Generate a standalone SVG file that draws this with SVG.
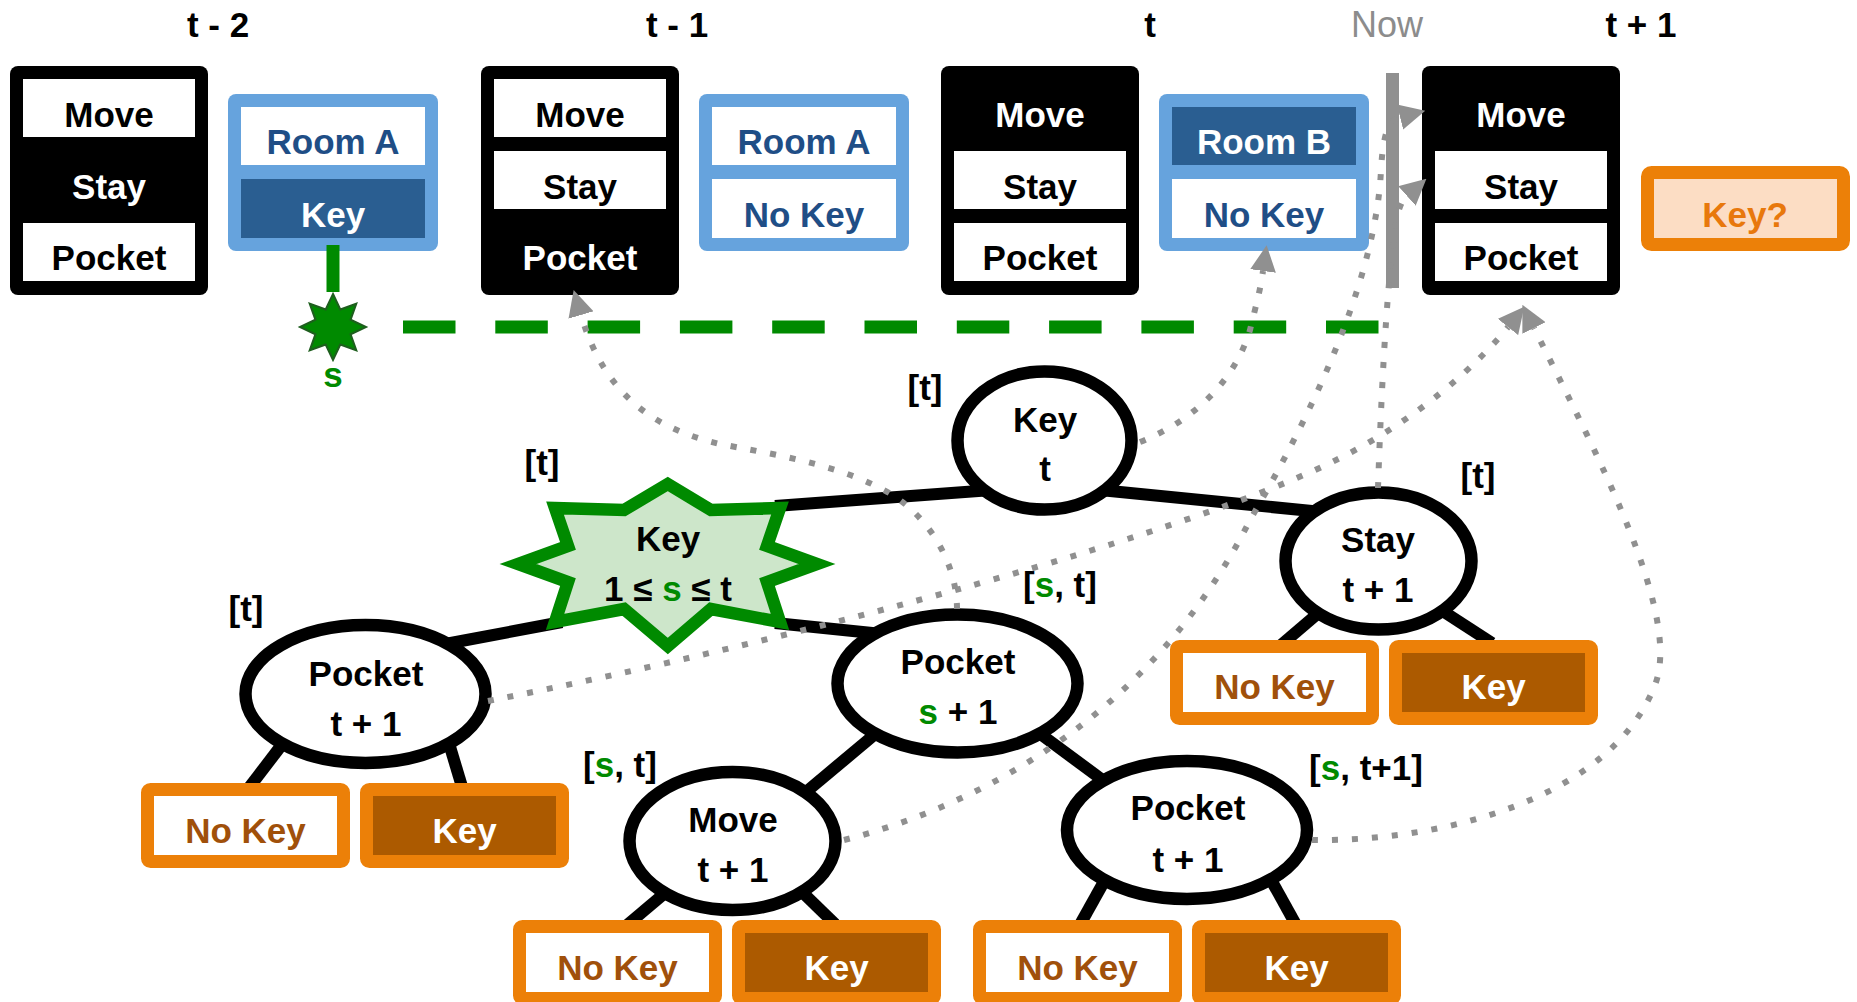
<svg xmlns="http://www.w3.org/2000/svg" width="1857" height="1002" viewBox="0 0 1857 1002">
  <defs>
    <style>
      text { font-family: "Liberation Sans", Arial, sans-serif; font-weight: bold; font-size: 35px; text-anchor: middle; }
      .hdr { fill: #000; }
      .now { fill: #8c8c8c; font-weight: normal; font-size: 36px; }
      .blk { fill: #000; }
      .row { fill: #fff; }
      .wt { fill: #fff; }
      .bk { fill: #000; }
      .room { fill: #66a3dd; }
      .rowsel { fill: #2a5e91; }
      .rt { fill: #1f4e86; }
      .leaf { fill: #fff; stroke: #ec8008; stroke-width: 13; }
      .leafk { fill: #ac5a00; stroke: #ec8008; stroke-width: 13; }
      .lt { fill: #a0500a; }
      .node { fill: #fff; stroke: #000; stroke-width: 12.5; }
      .edge { stroke: #000; stroke-width: 12; fill: none; }
      .g { fill: #008a00; }
      .dot { fill: none; stroke: #909090; stroke-width: 6; stroke-dasharray: 6 14; marker-end: url(#arr); }
    </style>
    <marker id="arr" markerUnits="userSpaceOnUse" markerWidth="26" markerHeight="26" viewBox="0 0 26 26" refX="0" refY="13" orient="auto">
      <path d="M0,0 L26,13 L0,26 z" fill="#909090"/>
    </marker>
  </defs>

  <rect width="1857" height="1002" fill="#fff"/>

  <!-- time step headings -->
  <g id="headings">
    <text class="hdr" x="218" y="37">t - 2</text>
    <text class="hdr" x="677" y="37">t - 1</text>
    <text class="hdr" x="1150" y="37">t</text>
    <text class="now" x="1387" y="37">Now</text>
    <text class="hdr" x="1641" y="37">t + 1</text>
  </g>

  <!-- action blocks -->
  <g id="action-t-2">
    <rect class="blk" x="10" y="66" width="198" height="229" rx="8"/>
    <rect class="row" x="23" y="79" width="172" height="58"/>
    <rect class="row" x="23" y="223" width="172" height="58"/>
    <text class="bk" x="109" y="127">Move</text>
    <text class="wt" x="109" y="199">Stay</text>
    <text class="bk" x="109" y="270">Pocket</text>
  </g>
  <g id="action-t-1">
    <rect class="blk" x="481" y="66" width="198" height="229" rx="8"/>
    <rect class="row" x="494" y="79" width="172" height="58"/>
    <rect class="row" x="494" y="151" width="172" height="58"/>
    <text class="bk" x="580" y="127">Move</text>
    <text class="bk" x="580" y="199">Stay</text>
    <text class="wt" x="580" y="270">Pocket</text>
  </g>
  <g id="action-t">
    <rect class="blk" x="941" y="66" width="198" height="229" rx="8"/>
    <rect class="row" x="954" y="151" width="172" height="58"/>
    <rect class="row" x="954" y="223" width="172" height="58"/>
    <text class="wt" x="1040" y="127">Move</text>
    <text class="bk" x="1040" y="199">Stay</text>
    <text class="bk" x="1040" y="270">Pocket</text>
  </g>
  <g id="action-t1">
    <rect class="blk" x="1422" y="66" width="198" height="229" rx="8"/>
    <rect class="row" x="1435" y="151" width="172" height="58"/>
    <rect class="row" x="1435" y="223" width="172" height="58"/>
    <text class="wt" x="1521" y="127">Move</text>
    <text class="bk" x="1521" y="199">Stay</text>
    <text class="bk" x="1521" y="270">Pocket</text>
  </g>

  <!-- observation blocks -->
  <g id="obs-t-2">
    <rect class="room" x="228" y="94" width="210" height="157" rx="8"/>
    <rect class="row" x="241" y="107" width="184" height="58"/>
    <rect class="rowsel" x="241" y="179" width="184" height="59"/>
    <text class="rt" x="333" y="154">Room A</text>
    <text class="wt" x="333" y="227">Key</text>
  </g>
  <g id="obs-t-1">
    <rect class="room" x="699" y="94" width="210" height="157" rx="8"/>
    <rect class="row" x="712" y="107" width="184" height="58"/>
    <rect class="row" x="712" y="179" width="184" height="59"/>
    <text class="rt" x="804" y="154">Room A</text>
    <text class="rt" x="804" y="227">No Key</text>
  </g>
  <g id="obs-t">
    <rect class="room" x="1159" y="94" width="210" height="157" rx="8"/>
    <rect class="rowsel" x="1172" y="107" width="184" height="58"/>
    <rect class="row" x="1172" y="179" width="184" height="59"/>
    <text class="wt" x="1264" y="154">Room B</text>
    <text class="rt" x="1264" y="227">No Key</text>
  </g>
  <g id="query">
    <rect x="1647.5" y="172.5" width="196" height="72" rx="4" fill="#fcddc4" stroke="#ec8008" stroke-width="13"/>
    <text x="1745" y="227" fill="#e8780c">Key?</text>
  </g>

  <!-- "now" divider -->
  <g id="now-bar">
    <rect x="1386" y="73" width="13" height="215" fill="#909090"/>
  </g>

  <!-- key sighting marker and its persistence line -->
  <g id="sighting">
    <line x1="333" y1="245" x2="333" y2="292" stroke="#008a00" stroke-width="13"/>
    <line x1="403" y1="327" x2="1380" y2="327" stroke="#008a00" stroke-width="13" stroke-dasharray="52.5 39.8"/>
    <polygon points="333,294 340.3,309.4 356.3,303.7 350.6,319.7 366,327 350.6,334.3 356.3,350.3 340.3,344.6 333,360 325.7,344.6 309.7,350.3 315.4,334.3 300,327 315.4,319.7 309.7,303.7 325.7,309.4" fill="#008a00" stroke="#1e5e1e" stroke-width="2"/>
    <text class="g" x="333" y="387">s</text>
  </g>

  <!-- tree edges -->
  <g id="tree-edges">
    <line class="edge" x1="775" y1="506" x2="992" y2="490"/>
    <line class="edge" x1="1100" y1="490" x2="1322" y2="512"/>
    <line class="edge" x1="440" y1="645" x2="562" y2="622"/>
    <line class="edge" x1="775" y1="623" x2="882" y2="634"/>
    <line class="edge" x1="880" y1="730" x2="800" y2="797"/>
    <line class="edge" x1="1035" y1="730" x2="1112" y2="787"/>
    <line class="edge" x1="287" y1="738" x2="245" y2="793"/>
    <line class="edge" x1="448" y1="740" x2="463" y2="790"/>
    <line class="edge" x1="665" y1="893" x2="620" y2="931"/>
    <line class="edge" x1="800" y1="890" x2="835" y2="924"/>
    <line class="edge" x1="1322" y1="610" x2="1274" y2="651"/>
    <line class="edge" x1="1438" y1="608" x2="1492" y2="643"/>
    <line class="edge" x1="1106" y1="878" x2="1077" y2="930"/>
    <line class="edge" x1="1270" y1="878" x2="1295" y2="923"/>
  </g>

  <!-- leaf outcomes -->
  <g id="leaf-pocket-l-nokey"><rect class="leaf" x="147.5" y="789.5" width="196" height="72" rx="3"/><text class="lt" x="245.5" y="843">No Key</text></g>
  <g id="leaf-pocket-l-key"><rect class="leafk" x="366.5" y="789.5" width="196" height="72" rx="3"/><text class="wt" x="464.5" y="843">Key</text></g>
  <g id="leaf-stay-nokey"><rect class="leaf" x="1176.5" y="646.5" width="196" height="72" rx="3"/><text class="lt" x="1274.5" y="699">No Key</text></g>
  <g id="leaf-stay-key"><rect class="leafk" x="1395.5" y="646.5" width="196" height="72" rx="3"/><text class="wt" x="1493.5" y="699">Key</text></g>
  <g id="leaf-move-nokey"><rect class="leaf" x="519.5" y="926.5" width="196" height="72" rx="3"/><text class="lt" x="617.5" y="980">No Key</text></g>
  <g id="leaf-move-key"><rect class="leafk" x="738.5" y="926.5" width="196" height="72" rx="3"/><text class="wt" x="836.5" y="980">Key</text></g>
  <g id="leaf-pocket-r-nokey"><rect class="leaf" x="979.5" y="926.5" width="196" height="72" rx="3"/><text class="lt" x="1077.5" y="980">No Key</text></g>
  <g id="leaf-pocket-r-key"><rect class="leafk" x="1198.5" y="926.5" width="196" height="72" rx="3"/><text class="wt" x="1296.5" y="980">Key</text></g>

  <!-- tree nodes -->
  <g id="node-key-t">
    <ellipse class="node" cx="1044.5" cy="440.5" rx="87" ry="69"/>
    <text x="1045" y="432">Key</text>
    <text x="1045" y="481">t</text>
    <text x="925" y="400">[t]</text>
  </g>
  <g id="node-key-s">
    <polygon points="667.8,484 711,510 780,508 767,546 817,564 767,582 780,622 711,609 667.8,646 624,609 555,622 568,582 518,564 568,546 555,508 624,510" fill="#cde6ca" stroke="#008a00" stroke-width="12.5" stroke-linejoin="miter"/>
    <text x="668" y="551">Key</text>
    <text x="668" y="601">1 ≤ <tspan class="g">s</tspan> ≤ t</text>
    <text x="542" y="475">[t]</text>
  </g>
  <g id="node-stay">
    <ellipse class="node" cx="1378.5" cy="561" rx="93" ry="68.5"/>
    <text x="1378" y="552">Stay</text>
    <text x="1378" y="602">t + 1</text>
    <text x="1478" y="488">[t]</text>
  </g>
  <g id="node-pocket-l">
    <ellipse class="node" cx="365.5" cy="694" rx="120" ry="69"/>
    <text x="366" y="686">Pocket</text>
    <text x="366" y="736">t + 1</text>
    <text x="246" y="621">[t]</text>
  </g>
  <g id="node-pocket-s">
    <ellipse class="node" cx="957.5" cy="683.5" rx="120" ry="69"/>
    <text x="958" y="674">Pocket</text>
    <text x="958" y="724"><tspan class="g">s</tspan> + 1</text>
    <text x="1060" y="597">[<tspan class="g">s</tspan>, t]</text>
  </g>
  <g id="node-move">
    <ellipse class="node" cx="732.5" cy="841" rx="103" ry="69"/>
    <text x="733" y="832">Move</text>
    <text x="733" y="882">t + 1</text>
    <text x="620" y="777">[<tspan class="g">s</tspan>, t]</text>
  </g>
  <g id="node-pocket-r">
    <ellipse class="node" cx="1187" cy="830" rx="120" ry="69"/>
    <text x="1188" y="820">Pocket</text>
    <text x="1188" y="872">t + 1</text>
    <text x="1366" y="780">[<tspan class="g">s</tspan>, t+1]</text>
  </g>

  <!-- dotted links from tree nodes back to the timeline -->
  <g id="connectors">
    <path class="dot" d="M957,609 C957,560 925,510 880,488 C830,462 760,452 720,444 C660,430 606,400 581,315"/>
    <path class="dot" d="M1140,442 C1195,420 1235,380 1250,330 C1256,305 1260,292 1263,271"/>
    <path class="dot" d="M488,701 C800,640 1200,530 1340,458 C1420,418 1480,362 1508,327"/>
    <path class="dot" d="M1312,840 C1440,842 1610,800 1655,685 C1682,616 1600,460 1534,328"/>
    <path class="dot" d="M844,840 C1000,800 1160,700 1250,520 C1285,460 1375,300 1381,170 C1383,135 1388,120 1400,117"/>
    <path class="dot" d="M1378,488 C1381,400 1386,300 1393,245 C1396,220 1398,204 1407,196"/>
  </g>
</svg>
